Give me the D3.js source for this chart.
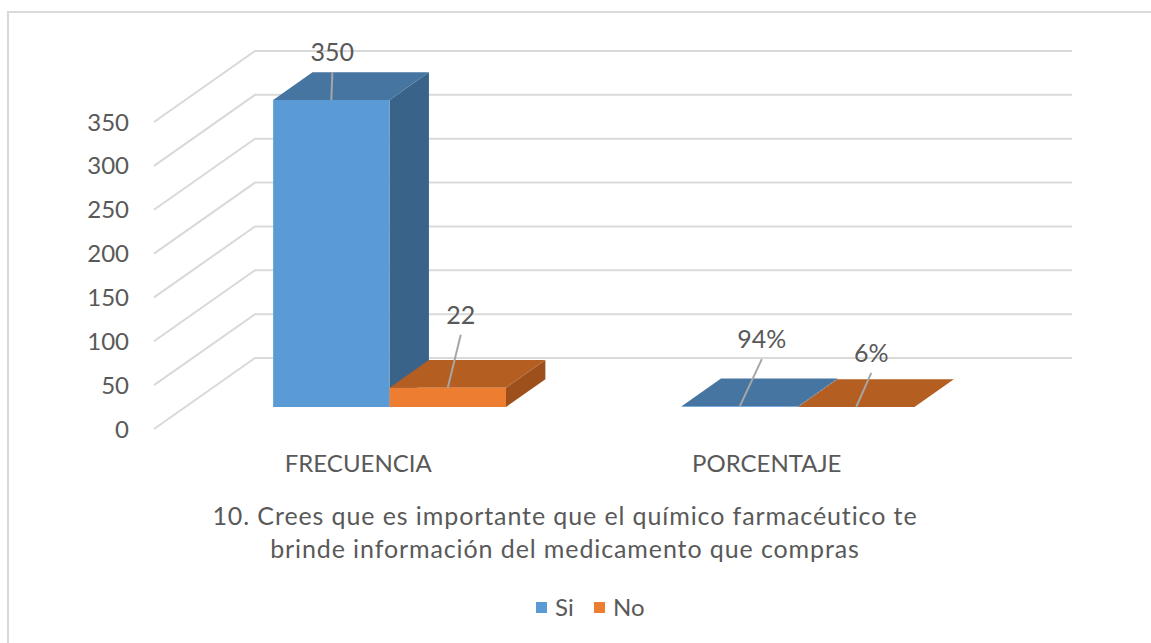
<!DOCTYPE html>
<html>
<head>
<meta charset="utf-8">
<script src="https://cdn.jsdelivr.net/npm/d3@7"></script>
<style>
  body { margin: 0; background: #fff; }
  text { font-family: Lato, "Liberation Sans", sans-serif; fill: #595959; }
</style>
</head>
<body>
<div id="chart"></div>
<script>
// chart data
const categories = ["FRECUENCIA", "PORCENTAJE"];
const seriesNames = ["Si", "No"];
const siValues = [350, 0.94];
const noValues = [22, 0.06];
const yTicks = [0, 50, 100, 150, 200, 250, 300, 350];
const titleLines = [
  "10. Crees que es importante que el químico farmacéutico te",
  "brinde información del medicamento que compras"
];

// format of the data labels for each category
const labelFormats = [d3.format("d"), d3.format(".0%")];

// colours: front, top, side
const colors = {
  Si: { front: "#5B9BD5", top: "#4675A1", side: "#3A6389" },
  No: { front: "#ED7D31", top: "#B55E22", side: "#9D501C" }
};

const width = 1151, height = 643;
const plotLeft = 154, plotWidth = 817;
const depth = { dx: 101, dy: -71 };
const zFront = 0.31, zBack = 0.70;

// where each dragged data label sits relative to its bar (dx, dy)
const labelShift = {
  "FRECUENCIA|Si": [1, -48],
  "FRECUENCIA|No": [13, -73],
  "PORCENTAJE|Si": [22, -67],
  "PORCENTAJE|No": [15, -54]
};

const svg = d3.select("#chart").append("svg")
  .attr("width", width)
  .attr("height", height);

// frame
svg.append("rect")
  .attr("x", 8).attr("y", 12)
  .attr("width", 1300).attr("height", 800)
  .attr("fill", "none")
  .attr("stroke", "#d9d9d9")
  .attr("stroke-width", 2);

const y = d3.scaleLinear().domain([0, 350]).range([429, 122]);

const x0 = d3.scaleBand()
  .domain(categories)
  .range([0, plotWidth])
  .paddingInner(0.43)
  .paddingOuter(0.215);

const x1 = d3.scaleBand()
  .domain(seriesNames)
  .range([0, x0.bandwidth()]);

// project a point (plot x, value, depth z) to the screen
function project(px, v, z) {
  return [plotLeft + px + z * depth.dx, y(v) + z * depth.dy];
}

// gridlines: floor diagonal + back wall line
const grid = svg.append("g");
yTicks.forEach((t) => {
  const a = project(0, t, 0);
  const b = project(0, t, 1);
  const c = project(plotWidth, t, 1);
  grid.append("polyline")
    .attr("points", [a, b, c].map((p) => p.join(",")).join(" "))
    .attr("fill", "none")
    .attr("stroke", "#d9d9d9")
    .attr("stroke-width", 2);
});

// y axis labels
svg.append("g")
  .selectAll("text")
  .data(yTicks)
  .enter()
  .append("text")
  .attr("x", 129)
  .attr("y", (d) => y(d))
  .attr("dy", "0.36em")
  .attr("text-anchor", "end")
  .style("font-size", "24px")
  .text((d) => d);

// bars
const bars = [];
categories.forEach((cat, i) => {
  bars.push({ cat, i, series: "Si", value: siValues[i] });
  bars.push({ cat, i, series: "No", value: noValues[i] });
});

const poly = (pts) => pts.map((p) => p.join(",")).join(" ");

const barG = svg.append("g");
bars.forEach((d) => {
  const xl = x0(d.cat) + x1(d.series);
  const xr = xl + x1.bandwidth();
  const c = colors[d.series];
  const fbl = project(xl, 0, zFront), fbr = project(xr, 0, zFront);
  const ftl = project(xl, d.value, zFront), ftr = project(xr, d.value, zFront);
  const btl = project(xl, d.value, zBack), btr = project(xr, d.value, zBack);
  const bbr = project(xr, 0, zBack);
  barG.append("polygon").attr("points", poly([fbr, ftr, btr, bbr])).attr("fill", c.side);
  barG.append("polygon").attr("points", poly([ftl, ftr, btr, btl])).attr("fill", c.top);
  barG.append("polygon").attr("points", poly([fbl, fbr, ftr, ftl])).attr("fill", c.front);
  d.anchor = project((xl + xr) / 2, d.value, zFront);
});

// data labels with leader lines
const labelG = svg.append("g");
bars.forEach((d) => {
  const s = labelShift[d.cat + "|" + d.series];
  const lx = d.anchor[0] + s[0];
  const ly = d.anchor[1] + s[1];
  labelG.append("line")
    .attr("x1", d.anchor[0]).attr("y1", d.anchor[1])
    .attr("x2", lx).attr("y2", ly + 20)
    .attr("stroke", "#a6a6a6")
    .attr("stroke-width", 2);
  labelG.append("text")
    .attr("x", lx)
    .attr("y", ly)
    .attr("dy", "0.36em")
    .attr("text-anchor", "middle")
    .style("font-size", "25px")
    .text(labelFormats[d.i](d.value));
});

// category labels at the front edge of the floor
svg.append("g")
  .selectAll("text")
  .data(categories)
  .enter()
  .append("text")
  .attr("x", (d) => plotLeft + x0(d) + x0.bandwidth() / 2)
  .attr("y", 463)
  .attr("dy", "0.36em")
  .attr("text-anchor", "middle")
  .style("font-size", "24px")
  .text((d) => d);

// title
svg.append("g")
  .selectAll("text")
  .data(titleLines)
  .enter()
  .append("text")
  .attr("x", 565)
  .attr("y", (d, i) => 516 + i * 33)
  .attr("dy", "0.36em")
  .attr("text-anchor", "middle")
  .style("font-size", "25px")
  .style("letter-spacing", "0.9px")
  .text((d) => d);

// legend
const legend = svg.append("g");
const legendX = [536, 594];
seriesNames.forEach((name, i) => {
  legend.append("rect")
    .attr("x", legendX[i]).attr("y", 602)
    .attr("width", 11).attr("height", 11)
    .attr("fill", colors[name].front);
  legend.append("text")
    .attr("x", legendX[i] + 19)
    .attr("y", 607)
    .attr("dy", "0.36em")
    .style("font-size", "24px")
    .text(name);
});
</script>
</body>
</html>
